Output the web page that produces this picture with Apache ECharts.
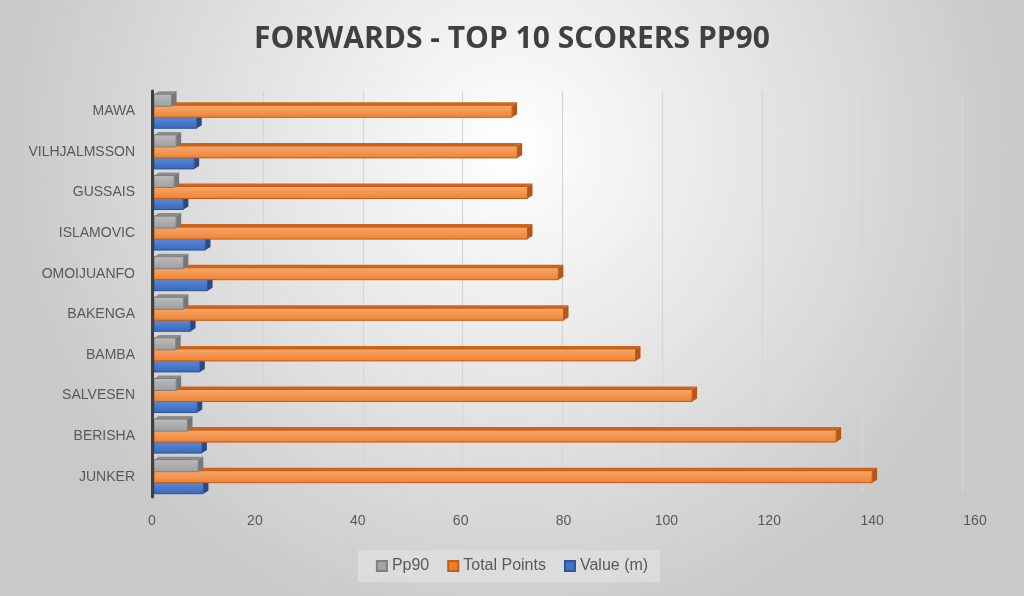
<!DOCTYPE html>
<html>
<head>
<meta charset="utf-8">
<script src="https://cdn.jsdelivr.net/npm/echarts@6/dist/echarts.min.js"></script>
<style>
html,body{margin:0;padding:0;}
#c{width:1024px;height:596px;}
</style>
</head>
<body>
<div id="c"></div>
<script>
// Data (bottom to top as in the spreadsheet)
var categories = ['JUNKER','BERISHA','SALVESEN','BAMBA','BAKENGA','OMOIJUANFO','ISLAMOVIC','GUSSAIS','VILHJALMSSON','MAWA'];
var pp90 = [9.0, 6.9, 4.7, 4.6, 6.1, 6.1, 4.7, 4.3, 4.7, 3.8];
var totalPoints = [140, 133, 105, 94, 80, 79, 73, 73, 71, 70];
var valueM = [10.0, 9.7, 8.8, 9.3, 7.5, 10.8, 10.4, 6.1, 8.2, 8.7];
var xTicks = [0, 20, 40, 60, 80, 100, 120, 140, 160];

var chart = echarts.init(document.getElementById('c'));

function grad(c1, c2, c3) {
  return new echarts.graphic.LinearGradient(0, 0, 0, 1, [
    {offset: 0, color: c1}, {offset: 0.5, color: c2}, {offset: 1, color: c3}
  ]);
}

var BAR_H = 12, DX = 5, DY = 3;
function bar3D(name, values, offset, pal, z) {
  return {
    name: name, type: 'custom', z: z,
    xAxisIndex: 0, yAxisIndex: 0,
    encode: {x: 0, y: 1},
    data: values.map(function (v, i) { return [v, i]; }),
    itemStyle: {color: pal.legend, borderColor: pal.edge, borderWidth: 1},
    renderItem: function (params, api) {
      var v = api.value(0), cat = api.value(1);
      var p0 = api.coord([0, cat]);
      var p1 = api.coord([v, cat]);
      var yc = p0[1] + offset;
      var top = yc - BAR_H / 2, bot = yc + BAR_H / 2;
      var x0 = p0[0] + 2, x1 = p1[0];
      return {
        type: 'group',
        children: [
          {type: 'polygon', shape: {points: [[x0, top], [x1, top], [x1 + DX, top - DY], [x0 + DX, top - DY]]},
           style: {fill: pal.top}},
          {type: 'polygon', shape: {points: [[x1, top], [x1 + DX, top - DY], [x1 + DX, bot - DY], [x1, bot]]},
           style: {fill: pal.side}},
          {type: 'rect', shape: {x: x0, y: top, width: x1 - x0, height: BAR_H},
           style: {fill: grad(pal.f1, pal.f2, pal.f3), stroke: pal.edge, lineWidth: 1}}
        ]
      };
    }
  };
}

var labelFont = 'Liberation Sans';
var option = {
  backgroundColor: {
    type: 'radial', x: 0.5, y: 0.25, r: 0.85,
    colorStops: [{offset: 0, color: '#ffffff'}, {offset: 1, color: '#c9c9c9'}]
  },
  title: {
    text: 'FORWARDS - TOP 10 SCORERS PP90',
    left: 'center', top: 19,
    textStyle: {fontFamily: 'Open Sans', fontWeight: 'bold', fontSize: 30, color: '#404040'}
  },
  legend: {
    data: ['Pp90', 'Total Points', 'Value (m)'],
    bottom: 14, left: 'center',
    icon: 'rect',
    itemWidth: 10, itemHeight: 10, itemGap: 18,
    backgroundColor: '#dcdcdc',
    padding: [8, 12, 8, 18],
    textStyle: {fontFamily: labelFont, fontSize: 16, color: '#595959'}
  },
  grid: [
    {left: 152, right: 49, top: 91, bottom: 99},
    {left: 163, right: 62, top: 91, bottom: 104}
  ],
  xAxis: [
    {
      gridIndex: 0, type: 'value', min: xTicks[0], max: xTicks[xTicks.length - 1], interval: 20,
      axisLine: {show: false}, axisTick: {show: false}, splitLine: {show: false},
      axisLabel: {fontFamily: labelFont, fontSize: 14, color: '#595959', margin: 17}
    },
    {
      gridIndex: 1, type: 'value', min: xTicks[0], max: xTicks[xTicks.length - 1], interval: 20,
      axisLine: {show: false}, axisTick: {show: false}, axisLabel: {show: false},
      splitLine: {show: true, lineStyle: {color: '#d6d6d6', width: 1.2}}
    }
  ],
  yAxis: [
    {
      gridIndex: 0, type: 'category', data: categories, z: 10,
      axisLine: {show: true, lineStyle: {color: '#3f3f3f', width: 3}},
      axisTick: {show: false},
      axisLabel: {fontFamily: labelFont, fontSize: 14, color: '#595959', margin: 17}
    },
    {
      gridIndex: 1, type: 'category', data: categories, show: false
    }
  ],
  series: [
    bar3D('Value (m)', valueM, 11,
      {legend: '#4472c4', edge: '#2f5597', f1: '#5d8bd9', f2: '#4a7bcc', f3: '#3b67b6', top: '#2f5597', side: '#284a86'}, 2),
    bar3D('Total Points', totalPoints, 0,
      {legend: '#ed7d31', edge: '#c55a11', f1: '#f7a869', f2: '#f39652', f3: '#ea8235', top: '#cc6422', side: '#b8561a'}, 3),
    bar3D('Pp90', pp90, -11,
      {legend: '#a5a5a5', edge: '#7f7f7f', f1: '#bcbcbc', f2: '#adadad', f3: '#9e9e9e', top: '#8c8c8c', side: '#777777'}, 4)
  ]
};
chart.setOption(option);
</script>
</body>
</html>
